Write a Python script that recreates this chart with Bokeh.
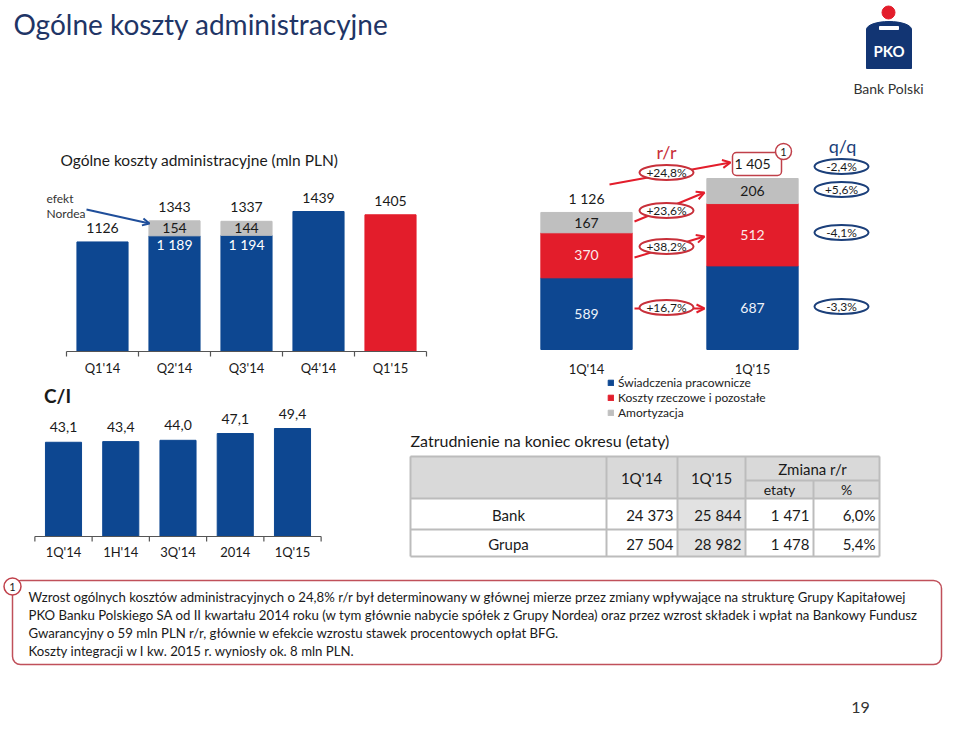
from bokeh.plotting import figure
from bokeh.models import Range1d, Arrow, OpenHead
from bokeh.core.properties import value
from bokeh.embed import file_html
from bokeh.resources import INLINE

# ---------------- data ----------------
quarters = ["Q1'14", "Q2'14", "Q3'14", "Q4'14", "Q1'15"]
cost_totals = [1126, 1343, 1337, 1439, 1405]
cost_base = [1126, 1189, 1194, 1439, 1405]
nordea_effect = [0, 154, 144, 0, 0]

periods = ["1Q'14", "1Q'15"]
employee_benefits = [589, 687]
material_costs = [370, 512]
amortisation = [167, 206]
period_totals = [1126, 1405]
yoy_labels = ["+24,8%", "+23,6%", "+38,2%", "+16,7%"]
qoq_labels = ["-2,4%", "+5,6%", "-4,1%", "-3,3%"]
series_names = ["Świadczenia pracownicze", "Koszty rzeczowe i pozostałe", "Amortyzacja"]

ci_periods = ["1Q'14", "1H'14", "3Q'14", "2014", "1Q'15"]
ci_values = [43.1, 43.4, 44.0, 47.1, 49.4]

table_rows = ["Bank", "Grupa"]
fte_1q14 = [24373, 27504]
fte_1q15 = [25844, 28982]
fte_change = [1471, 1478]
fte_change_pct = [6.0, 5.4]

footnote_lines = [
    "Wzrost ogólnych kosztów administracyjnych o 24,8% r/r był determinowany w głównej mierze przez zmiany wpływające na strukturę Grupy Kapitałowej",
    "PKO Banku Polskiego SA od II kwartału 2014 roku (w tym głównie nabycie spółek z Grupy Nordea) oraz przez wzrost składek i wpłat na Bankowy Fundusz",
    "Gwarancyjny o 59 mln PLN r/r, głównie w efekcie wzrostu stawek procentowych opłat BFG.",
    "Koszty integracji w I kw. 2015 r. wyniosły ok. 8 mln PLN.",
]

# ---------------- style ----------------
FONT = "Lato"
BLUE = "#0d4791"
RED = "#e31d2b"
GRAY = "#bfbfbf"
NAVY = "#1f3566"
DARK = "#1a1a1a"
OVAL_BLUE = "#1b3f7a"


def sp(n):
    return f"{n:,}".replace(",", " ")


def dec(v):
    return f"{v:.1f}".replace(".", ",")


def lin_range(pa, va, pb, vb, p_start, p_end):
    s = (vb - va) / (pb - pa)
    return Range1d(start=va + (p_start - pa) * s, end=va + (p_end - pa) * s)


W, H = 944, 719
X0, X1, YB, YT = 0, W, H, 0

p = figure(width=W, height=H, x_range=Range1d(X0, X1), y_range=Range1d(YB, YT),
           output_backend="svg", toolbar_location=None, min_border=0,
           x_axis_location=None, y_axis_location=None, outline_line_color=None,
           background_fill_color="white", border_fill_color="white")
p.grid.visible = False

p.extra_x_ranges = {
    "xa": lin_range(102, 0, 390, 4, X0, X1),
    "xb": lin_range(586, 0, 752, 1, X0, X1),
    "xc": lin_range(63, 0, 292, 4, X0, X1),
}
p.extra_y_ranges = {
    "ya": lin_range(351, 0, 211, 1439, YB, YT),
    "yb": lin_range(349, 0, 178, 1405, YB, YT),
    "yc": lin_range(536, 0, 428, 49.4, YB, YT),
}


def txt(x, y, t, size, color=DARK, align="center", baseline="middle", xr="default", yr="default",
        style="normal", yoff=0, font=FONT):
    p.text(x=x, y=y, text=t, x_range_name=xr, y_range_name=yr, text_font=value(font),
           text_font_size=value(size), text_color=color, text_align=align,
           text_baseline=baseline, text_font_style=style, y_offset=yoff)


# ---------------- header ----------------
txt([13], [23], ["Ogólne koszty administracyjne"], "28px", NAVY, align="left")
# logo
p.circle(x=[888], y=[12], radius=6.5, color=RED)
p.ellipse(x=[888.5], y=[29], width=45, height=16, color="#123573")
p.quad(left=[866], right=[911], top=[29], bottom=[68], color="#123573")
p.quad(left=[879], right=[898], top=[26], bottom=[29], color="white")
txt([888.5], [50], ["PKO"], "15px", "white", style="bold")
txt([888], [88], ["Bank Polski"], "14px", "#333333")

# ---------------- chart A: costs by quarter ----------------
txt([60], [159], ["Ogólne koszty administracyjne (mln PLN)"], "15.5px", DARK, align="left")
idx_a = list(range(len(quarters)))
colors_a = [BLUE] * (len(quarters) - 1) + [RED]
p.vbar(x=idx_a, top=cost_base, bottom=0, width=0.71, color=colors_a,
       x_range_name="xa", y_range_name="ya")
n_idx = [i for i in idx_a if nordea_effect[i] > 0]
p.vbar(x=n_idx, bottom=[cost_base[i] for i in n_idx],
       top=[cost_base[i] + nordea_effect[i] for i in n_idx], width=0.71, color=GRAY,
       x_range_name="xa", y_range_name="ya")
txt(idx_a, cost_totals, [str(v) for v in cost_totals], "14px", DARK, xr="xa", yr="ya", yoff=-14)
txt(n_idx, [cost_base[i] + nordea_effect[i] / 2 for i in n_idx],
    [str(nordea_effect[i]) for i in n_idx], "14px", DARK, xr="xa", yr="ya")
txt(n_idx, [cost_base[i] for i in n_idx], [sp(cost_base[i]) for i in n_idx], "14px", "white",
    xr="xa", yr="ya", yoff=9)
# axis line with ticks
p.segment(x0=[-0.5], y0=[351], x1=[len(quarters) - 0.5], y1=[351], line_color="#555555",
          line_width=1.2, x_range_name="xa")
p.segment(x0=[i - 0.5 for i in range(len(quarters) + 1)], y0=[351] * (len(quarters) + 1),
          x1=[i - 0.5 for i in range(len(quarters) + 1)], y1=[356] * (len(quarters) + 1),
          line_color="#555555", line_width=1.2, x_range_name="xa")
txt(idx_a, [367] * len(quarters), quarters, "13px", DARK, xr="xa")
# efekt Nordea
txt([46, 46], [198, 213], ["efekt", "Nordea"], "12px", "#333333", align="left")
p.add_layout(Arrow(x_start=86, y_start=209, x_end=149, y_end=223, line_color="#1f4e9a",
                   line_width=2, end=OpenHead(size=7, line_color="#1f4e9a", line_width=2)))

# ---------------- chart B: structure ----------------
idx_b = list(range(len(periods)))
mat_top = [e + m for e, m in zip(employee_benefits, material_costs)]
am_top = [t + a for t, a in zip(mat_top, amortisation)]
p.vbar(x=idx_b, bottom=0, top=employee_benefits, width=0.55, color=BLUE,
       x_range_name="xb", y_range_name="yb", legend_label=series_names[0])
p.vbar(x=idx_b, bottom=employee_benefits, top=mat_top, width=0.55, color=RED,
       x_range_name="xb", y_range_name="yb", legend_label=series_names[1])
p.vbar(x=idx_b, bottom=mat_top, top=am_top, width=0.55, color=GRAY,
       x_range_name="xb", y_range_name="yb", legend_label=series_names[2])
txt(idx_b, [v / 2 for v in employee_benefits], [str(v) for v in employee_benefits], "14px",
    "#eef3fa", xr="xb", yr="yb")
txt(idx_b, [e + m / 2 for e, m in zip(employee_benefits, material_costs)],
    [str(v) for v in material_costs], "14px", "#fbeaea", xr="xb", yr="yb")
txt(idx_b, [t + a / 2 for t, a in zip(mat_top, amortisation)], [str(v) for v in amortisation],
    "14px", DARK, xr="xb", yr="yb")
txt([0], [period_totals[0]], [sp(period_totals[0])], "14px", DARK, xr="xb", yr="yb", yoff=-14)
txt(idx_b, [368] * len(periods), periods, "13px", DARK, xr="xb")

# total box with footnote marker
p.quad(left=[732], right=[781], top=[152], bottom=[175], fill_color="white",
       line_color="#c0404a", line_width=1.5, border_radius=4)
txt([1], [period_totals[1]], [sp(period_totals[1])], "14px", DARK, xr="xb", yr="yb", yoff=-15)
p.circle(x=[783], y=[151], radius=8, fill_color="white", line_color="#c0404a", line_width=1.5)
txt([783], [151], ["1"], "11px", DARK)

# r/r annotations
ARROWS = [((609, 184), (730, 162)), ((634, 221), (704, 192)),
          ((634, 257), (704, 236)), ((634, 308), (704, 308))]
for (xs, ys), (xe, ye) in ARROWS:
    p.add_layout(Arrow(x_start=xs, y_start=ys, x_end=xe, y_end=ye, line_color=RED, line_width=2,
                       level="underlay",
                       end=OpenHead(size=8, line_color=RED, line_width=2)))
YOY_Y = [172, 210, 246, 307]
p.ellipse(x=[666] * 4, y=YOY_Y, width=54, height=15, fill_color="white", line_color="#c8303a",
          line_width=2)
txt([666] * 4, YOY_Y, yoy_labels, "12px", DARK)
txt([666], [151], ["r/r"], "18px", "#c8303a")

# q/q annotations
QOQ_Y = [166, 189, 232, 306]
p.ellipse(x=[841] * 4, y=QOQ_Y, width=54, height=15, fill_color="white", line_color=OVAL_BLUE,
          line_width=2)
txt([841] * 4, QOQ_Y, qoq_labels, "12px", DARK)
txt([842], [145], ["q/q"], "18px", OVAL_BLUE)

# legend
lg = p.legend[0]
lg.location = (607, H - 420)
lg.border_line_color = None
lg.background_fill_alpha = 0
lg.padding = 0
lg.margin = 0
lg.spacing = 0
lg.label_standoff = 4
lg.glyph_width = 7
lg.glyph_height = 7
lg.label_height = 14
lg.label_text_font_size = "12px"
lg.label_text_font = FONT
lg.label_text_color = "#222222"

# ---------------- chart C: C/I ----------------
txt([57], [395], ["C/I"], "19px", DARK, style="bold")
idx_c = list(range(len(ci_periods)))
p.vbar(x=idx_c, bottom=0, top=ci_values, width=0.63, color=BLUE, x_range_name="xc",
       y_range_name="yc")
txt(idx_c, ci_values, [dec(v) for v in ci_values], "14px", DARK, xr="xc", yr="yc", yoff=-15)
p.segment(x0=[-0.5], y0=[536], x1=[len(ci_periods) - 0.5], y1=[536], line_color="#555555",
          line_width=1.2, x_range_name="xc")
p.segment(x0=[i - 0.5 for i in range(len(ci_periods) + 1)], y0=[536] * (len(ci_periods) + 1),
          x1=[i - 0.5 for i in range(len(ci_periods) + 1)], y1=[541] * (len(ci_periods) + 1),
          line_color="#555555", line_width=1.2, x_range_name="xc")
txt(idx_c, [551] * len(ci_periods), ci_periods, "13px", DARK, xr="xc")

# ---------------- table ----------------
txt([410], [440], ["Zatrudnienie na koniec okresu (etaty)"], "16px", DARK, align="left")
TX = [410, 606, 677, 745, 813, 879]
TY = [456, 480, 498, 529, 556]
p.quad(left=[TX[0]], right=[TX[5]], top=[TY[0]], bottom=[TY[2]], color="#d9d9d9")
p.quad(left=[TX[2]], right=[TX[3]], top=[TY[2]], bottom=[TY[4]], color="#e2e2e2")
hx0 = [TX[0], TX[3], TX[0], TX[0], TX[0]]
hx1 = [TX[5]] * 5
hy = [TY[0], TY[1], TY[2], TY[3], TY[4]]
p.segment(x0=hx0, y0=hy, x1=hx1, y1=hy, line_color="#bcbcbc", line_width=2)
vx = [TX[0], TX[1], TX[2], TX[3], TX[5], TX[4]]
vy0 = [TY[0]] * 5 + [TY[1]]
p.segment(x0=vx, y0=vy0, x1=vx, y1=[TY[4]] * 6, line_color="#bcbcbc", line_width=2)
txt([641, 711], [477, 477], ["1Q'14", "1Q'15"], "15px", DARK)
txt([812], [468], ["Zmiana r/r"], "15px", DARK)
txt([779, 846], [489, 489], ["etaty", "%"], "14px", DARK)
row_y = [514, 543]
txt([508] * 2, row_y, table_rows, "15px", DARK)
txt([673] * 2, row_y, [sp(v) for v in fte_1q14], "15px", DARK, align="right")
txt([741] * 2, row_y, [sp(v) for v in fte_1q15], "15px", DARK, align="right")
txt([809] * 2, row_y, [sp(v) for v in fte_change], "15px", DARK, align="right")
txt([875] * 2, row_y, [dec(v) + "%" for v in fte_change_pct], "15px", DARK, align="right")

# ---------------- footnote ----------------
p.quad(left=[12], right=[941], top=[580], bottom=[664], fill_color="white",
       line_color="#c0505a", line_width=1.5, border_radius=8)
p.circle(x=[12], y=[586], radius=8.5, fill_color="white", line_color="#c0404a", line_width=1.5)
txt([12], [586], ["1"], "11px", DARK)
txt([28] * 4, [596, 614, 632, 650], footnote_lines, "13.2px", DARK, align="left")

txt([860], [707], ["19"], "16px", "#333333")

open("out.html", "w").write(file_html(p, INLINE))
